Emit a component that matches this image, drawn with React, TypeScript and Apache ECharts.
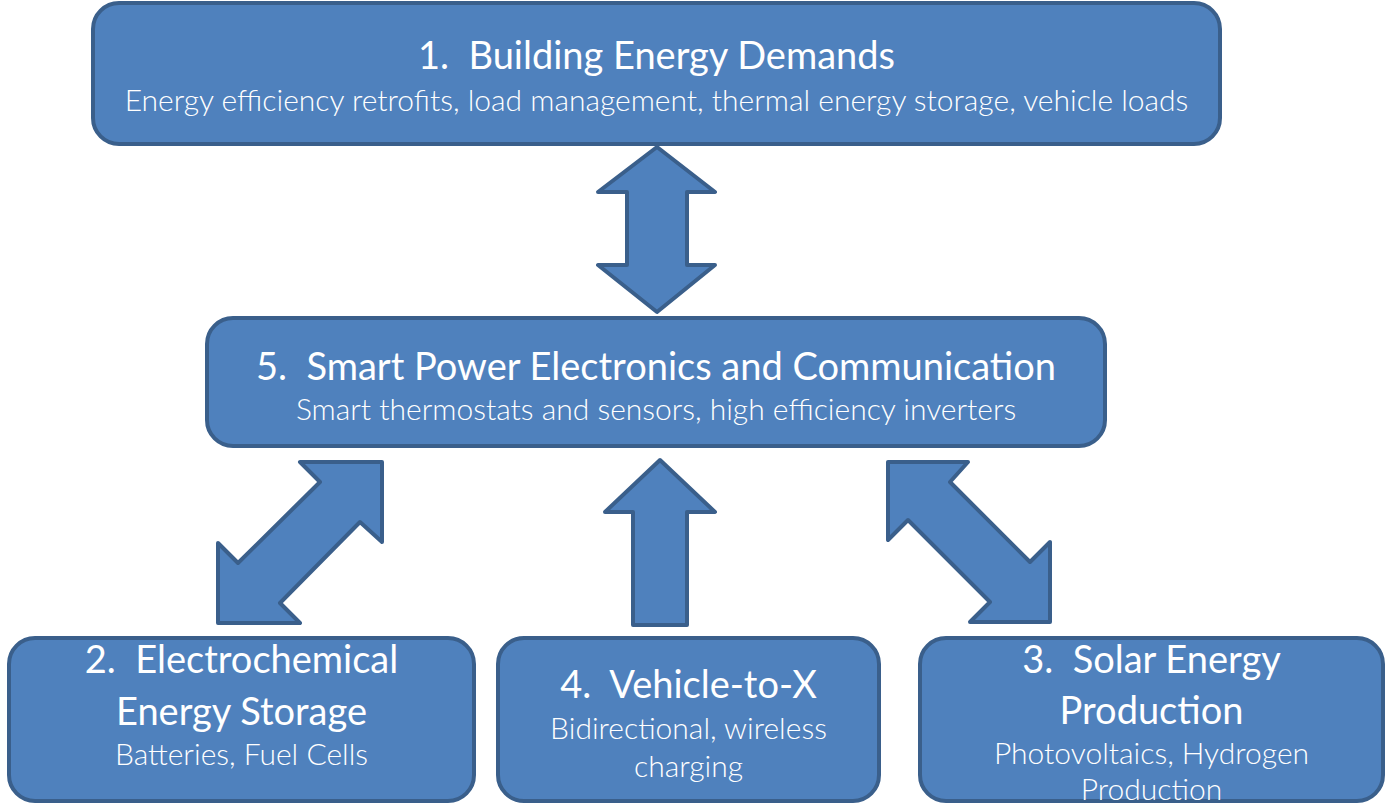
import React, { useEffect, useRef } from "react";
import * as echarts from "echarts";

// ---- Content ----
const boxTitles = [
  ["1.  Building Energy Demands"],
  ["5.  Smart Power Electronics and Communication"],
  ["2.  Electrochemical", "Energy Storage"],
  ["4.  Vehicle-to-X"],
  ["3.  Solar Energy", "Production"],
];
const boxSubtitles = [
  ["Energy efficiency retrofits, load management, thermal energy storage, vehicle loads"],
  ["Smart thermostats and sensors, high efficiency inverters"],
  ["Batteries, Fuel Cells"],
  ["Bidirectional, wireless", "charging"],
  ["Photovoltaics, Hydrogen", "Production"],
];

// ---- Layout (pixels) ----
const boxRects = [
  { x: 91, y: 1, w: 1131, h: 145 },
  { x: 205, y: 316, w: 902, h: 132 },
  { x: 7, y: 636, w: 469, h: 167 },
  { x: 496, y: 636, w: 385, h: 167 },
  { x: 918, y: 636, w: 467, h: 167 },
];
const titleLineY = [[54], [365], [658, 710], [683], [658, 709]];
const subLineY = [[99], [408], [753], [727, 765], [752, 788]];

const arrowPolys: number[][][] = [
  // vertical double arrow
  [[657, 147], [715, 192], [687, 192], [687, 265], [715, 265], [657, 312], [598, 265], [627, 265], [627, 192], [598, 192]],
  // up arrow
  [[660, 460], [715, 512], [687, 512], [687, 625], [633, 625], [633, 512], [605, 512]],
  // left diagonal double arrow
  [[382, 462], [382, 542], [360, 522], [280, 603], [300, 623], [218, 623], [218, 543], [238, 563], [320, 482], [300, 462]],
  // right diagonal double arrow
  [[888, 462], [968, 462], [950, 482], [1030, 562], [1050, 542], [1050, 622], [970, 622], [990, 602], [908, 520], [888, 540]],
];

const FILL = "#4f81bd";
const STROKE = "#3a5f8b";
const FONT = "Lato, 'Open Sans', sans-serif";

export default function App() {
  const ref = useRef<HTMLDivElement>(null);
  useEffect(() => {
    if (!ref.current) return;
    const chart = echarts.init(ref.current, undefined, { renderer: "svg" });
    const elements: any[] = [];
    arrowPolys.forEach((pts) => {
      elements.push({
        type: "polygon",
        shape: { points: pts },
        style: { fill: FILL, stroke: STROKE, lineWidth: 4, lineJoin: "round" },
      });
    });
    boxRects.forEach((b, i) => {
      elements.push({
        type: "rect",
        shape: { x: b.x + 2, y: b.y + 2, width: b.w - 4, height: b.h - 4, r: 26 },
        style: { fill: FILL, stroke: STROKE, lineWidth: 4 },
      });
      const cx = b.x + b.w / 2;
      boxTitles[i].forEach((t, j) => {
        elements.push({
          type: "text",
          x: cx,
          y: titleLineY[i][j],
          style: {
            text: t,
            fill: "#ffffff",
            font: `400 38px ${FONT}`,
            align: "center",
            verticalAlign: "middle",
          },
        });
      });
      boxSubtitles[i].forEach((t, j) => {
        elements.push({
          type: "text",
          x: cx,
          y: subLineY[i][j],
          style: {
            text: t,
            fill: "#ffffff",
            font: `300 30px ${FONT}`,
            align: "center",
            verticalAlign: "middle",
          },
        });
      });
    });
    chart.setOption({ animation: false, graphic: { elements } });
    return () => chart.dispose();
  }, []);
  return (
    <div
      ref={ref}
      style={{ position: "fixed", left: 0, top: 0, width: 1387, height: 807, background: "#fff" }}
    />
  );
}
